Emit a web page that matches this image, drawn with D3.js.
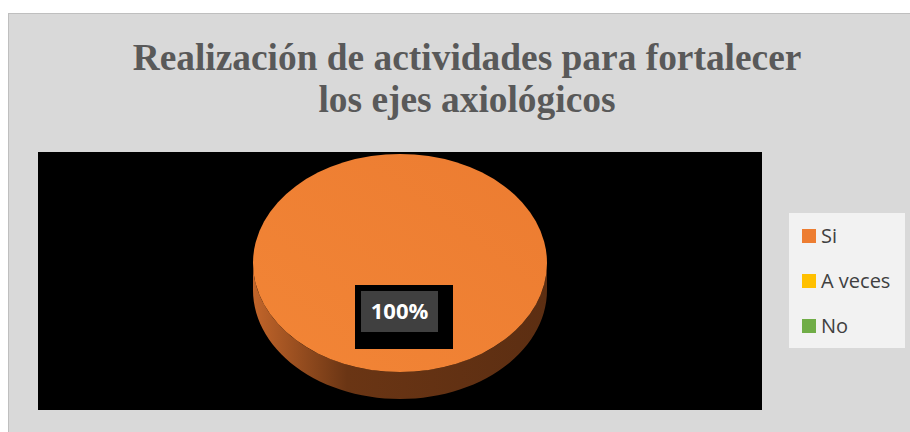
<!DOCTYPE html>
<html>
<head>
<meta charset="utf-8">
<script src="https://cdn.jsdelivr.net/npm/d3@7"></script>
<style>
  body { margin: 0; background: #ffffff; }
</style>
</head>
<body>
<svg id="chart"></svg>
<script>
const categories = ['Si', 'A veces', 'No'];
const values = [100, 0, 0];
const colors = ['#ed7d31', '#ffc000', '#70ad47'];
const titleLines = ['Realización de actividades para fortalecer', 'los ejes axiológicos'];

const width = 910, height = 432;
const svg = d3.select('#chart')
    .attr('width', width)
    .attr('height', height);

// chart area
svg.append('rect')
    .attr('x', 8.5).attr('y', 13.5)
    .attr('width', width).attr('height', height)
    .attr('fill', '#d9d9d9')
    .attr('stroke', '#bfbfbf');

// title
svg.append('g').selectAll('text')
    .data(titleLines)
    .enter()
    .append('text')
    .attr('x', 467)
    .attr('y', (d, i) => 70 + i * 42)
    .attr('text-anchor', 'middle')
    .attr('font-family', '"Liberation Serif", "Times New Roman", serif')
    .attr('font-weight', 'bold')
    .attr('font-size', 37.4)
    .attr('fill', '#595959')
    .text(d => d);

// plot area
svg.append('rect')
    .attr('x', 38).attr('y', 152)
    .attr('width', 724).attr('height', 258)
    .attr('fill', '#000000');

const defs = svg.append('defs');
const sideGrad = defs.append('linearGradient')
    .attr('id', 'side')
    .attr('x1', '0').attr('x2', '1').attr('y1', '0').attr('y2', '0');
sideGrad.append('stop').attr('offset', '0%').attr('stop-color', '#c2652a');
sideGrad.append('stop').attr('offset', '32%').attr('stop-color', '#6a3514');
sideGrad.append('stop').attr('offset', '100%').attr('stop-color', '#5c2e12');

const topGrad = defs.append('linearGradient')
    .attr('id', 'top')
    .attr('x1', '0').attr('x2', '1').attr('y1', '1').attr('y2', '0');
topGrad.append('stop').attr('offset', '0%').attr('stop-color', '#f28536');
topGrad.append('stop').attr('offset', '100%').attr('stop-color', '#ec7c31');

const cx = 400, cy = 263, rx = 147, ry = 109, depth = 27;

const pie = d3.pie().sort(null).value(d => d);
const arcs = pie(values);
const arc = d3.arc().innerRadius(0).outerRadius(1);

// sides (front half of the cylinder) for each non-empty slice
const sideX = a => cx + rx * Math.sin(a);
const sideY = a => cy - ry * Math.cos(a);
arcs.filter(d => d.value > 0).forEach(d => {
    const a0 = Math.max(d.startAngle, Math.PI / 2);
    const a1 = Math.min(d.endAngle, Math.PI * 3 / 2);
    if (a1 <= a0) return;
    const p = d3.path();
    const n = 60;
    for (let k = 0; k <= n; k++) {
        const a = a0 + (a1 - a0) * k / n;
        if (k === 0) p.moveTo(sideX(a), sideY(a)); else p.lineTo(sideX(a), sideY(a));
    }
    for (let k = n; k >= 0; k--) {
        const a = a0 + (a1 - a0) * k / n;
        p.lineTo(sideX(a), sideY(a) + depth);
    }
    p.closePath();
    svg.append('path')
        .attr('d', p.toString())
        .attr('fill', 'url(#side)');
});

// top faces
svg.append('g')
    .attr('transform', `translate(${cx},${cy}) scale(${rx},${ry})`)
    .selectAll('path')
    .data(arcs.filter(d => d.value > 0))
    .enter()
    .append('path')
    .attr('d', arc)
    .attr('fill', (d, i) => d.index === 0 ? 'url(#top)' : colors[d.index]);

// data label
const fmt = d3.format('.0%');
const total = d3.sum(values);
arcs.filter(d => d.value > 0).forEach(d => {
    svg.append('rect')
        .attr('x', 355).attr('y', 285)
        .attr('width', 98).attr('height', 64)
        .attr('fill', '#000000');
    svg.append('rect')
        .attr('x', 361).attr('y', 291)
        .attr('width', 77).attr('height', 41)
        .attr('fill', '#404040');
    svg.append('text')
        .attr('x', 399.5).attr('y', 319)
        .attr('text-anchor', 'middle')
        .attr('font-family', '"Open Sans", "Liberation Sans", sans-serif')
        .attr('font-weight', 'bold')
        .attr('font-size', 22)
        .attr('fill', '#ffffff')
        .text(fmt(d.value / total));
});

// legend
const legend = svg.append('g');
legend.append('rect')
    .attr('x', 789).attr('y', 213)
    .attr('width', 116).attr('height', 135)
    .attr('fill', '#f2f2f2');
const y = d3.scalePoint().domain(categories).range([236, 326]);
const item = legend.selectAll('g.item')
    .data(categories)
    .enter()
    .append('g')
    .attr('class', 'item')
    .attr('transform', d => `translate(802,${y(d)})`);
item.append('rect')
    .attr('x', 0).attr('y', -7)
    .attr('width', 14).attr('height', 14)
    .attr('fill', (d, i) => colors[i]);
item.append('text')
    .attr('x', 19).attr('y', 7)
    .attr('font-family', '"Open Sans", "Liberation Sans", sans-serif')
    .attr('font-size', 20)
    .attr('fill', '#404040')
    .text(d => d);
</script>
</body>
</html>
